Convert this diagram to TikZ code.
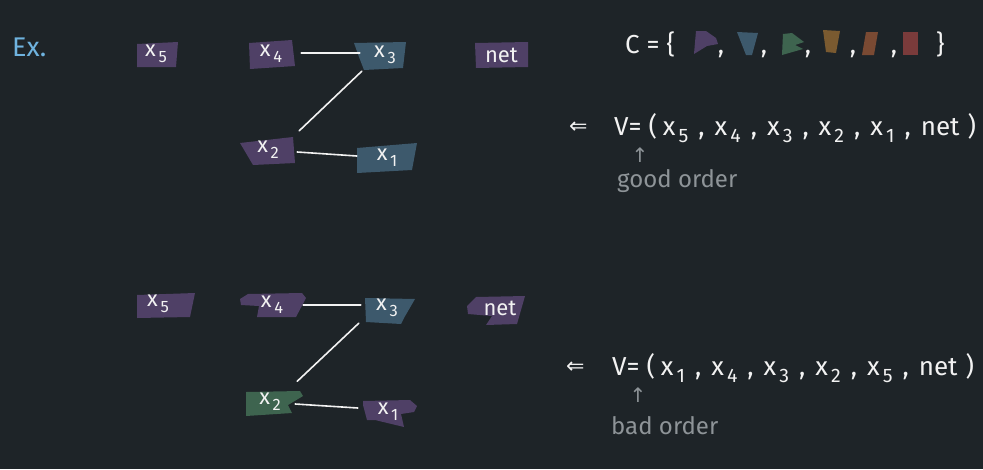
\documentclass[tikz,border=0pt]{standalone}
\usepackage{graphicx}
\usepackage{fontspec}
\setmainfont{Fira Sans}
\newfontfamily\symf{DejaVu Sans}
\definecolor{bg}{HTML}{1E2428}
\definecolor{fg}{HTML}{F2F2F2}
\definecolor{gr}{HTML}{8E9498}
\definecolor{exblue}{HTML}{6FB3DF}
\definecolor{cpurp}{HTML}{4F4066}
\definecolor{cblue}{HTML}{3D596C}
\definecolor{cgreen}{HTML}{3E644F}
\definecolor{corange}{HTML}{7A5A30}
\definecolor{crust}{HTML}{7A4A33}
\definecolor{cred}{HTML}{7A3B3B}
\newcommand{\xsub}[1]{x\kern0.12em\raisebox{-0.28em}{\scalebox{0.75}{#1}}}
\newcommand{\sep}{\hspace{10pt},\hspace{10pt}}
\tikzset{
  lbl/.style={text=fg, font=\fontsize{22}{26}\selectfont, inner sep=0pt},
  conn/.style={draw=fg, line width=1.6pt, line cap=round},
  big/.style={text=fg, font=\fontsize{26}{30}\selectfont, inner sep=0pt},
  note/.style={text=gr, font=\fontsize{24}{28}\selectfont, inner sep=0pt},
}
\begin{document}
\begin{tikzpicture}[x=1pt,y=-1pt]
\fill[bg] (0,0) rectangle (983,469);
\useasboundingbox (0,0) rectangle (983,469);

\node[text=exblue, font=\fontsize{27}{30}\selectfont, inner sep=0pt, anchor=west] (ex) at (12,47) {Ex.};

% ---------- top graph ----------
\fill[cpurp] (137,44) -- (178,42) -- (176,67) -- (137,67) -- cycle;
\fill[cpurp] (249,43) -- (292,40) -- (295,66) -- (250,69) -- cycle;
\fill[cblue] (354,43) -- (406,42) -- (403,68) -- (364,70) -- (359,57) -- cycle;
\fill[cpurp] (475,43) -- (528,42) -- (528,67) -- (476,68) -- cycle;
\fill[cpurp] (240,143) -- (293,137) -- (295,163) -- (253,165) -- cycle;
\fill[cblue] (357,148) -- (417,143) -- (412,170) -- (357,173) -- cycle;

\node[lbl, minimum width=41pt, minimum height=25pt] (tx5) at (156,54) {\xsub{5}};
\node[lbl, minimum width=46pt, minimum height=28pt] (tx4) at (271,54) {\xsub{4}};
\node[lbl, minimum width=50pt, minimum height=27pt] (tx3) at (385,55) {\xsub{3}};
\node[lbl, minimum width=53pt, minimum height=25pt] (tret) at (501.5,55) {net};
\node[lbl, minimum width=54pt, minimum height=28pt] (tx2) at (268,150) {\xsub{2}};
\node[lbl, minimum width=60pt, minimum height=30pt] (tx1) at (387,158) {\xsub{1}};

\draw[conn] ([xshift=7pt,yshift=1pt]tx4.east) -- ([xshift=0pt,yshift=2pt]tx3.west);
\draw[conn] ([xshift=2pt,yshift=-2.5pt]tx3.south west) -- ([xshift=4pt,yshift=5pt]tx2.north east);
\draw[conn] ([xshift=2pt,yshift=-2pt]tx2.east) -- ([yshift=2pt]tx1.west);

% ---------- bottom graph ----------
\fill[cpurp] (137,295) -- (195,293) -- (190,317) -- (137,318) -- cycle;
\fill[cpurp] (240,299) -- (248,294) -- (302,293) -- (306,298) -- (296,317) -- (257,317) -- (259,306) -- (241,305) -- cycle;
\fill[cblue] (365,298) -- (415,299) -- (404,318) -- (401,324) -- (366,322) -- cycle;
\fill[cpurp] (467,306) -- (476,297) -- (525,296) -- (517,324) -- (486,325) -- (492,316) -- (468,314) -- cycle;
\fill[cgreen] (246,392) -- (300,391) -- (303,396) -- (288,405) -- (292,413) -- (246,416) -- cycle;
\fill[cpurp] (363,401) -- (410,400) -- (417,406) -- (414,412) -- (401,414) -- (404,427) -- (375,420) -- (367,420) -- (363,405) -- cycle;

\node[lbl, minimum width=55pt, minimum height=26pt] (bx5) at (158,304) {\xsub{5}};
\node[lbl, minimum width=64pt, minimum height=24pt] (bx4) at (272,305) {\xsub{4}};
\node[lbl, minimum width=50pt, minimum height=26pt] (bx3) at (387,308) {\xsub{3}};
\node[lbl, minimum width=56pt, minimum height=30pt] (bret) at (500,308) {net};
\node[lbl, minimum width=56pt, minimum height=25pt] (bx2) at (270,402) {\xsub{2}};
\node[lbl, minimum width=54pt, minimum height=27pt] (bx1) at (388,412) {\xsub{1}};

\draw[conn] ([xshift=-1pt]bx4.east) -- ([xshift=-1pt,yshift=3pt]bx3.west);
\draw[conn] ([xshift=-3pt,yshift=-2pt]bx3.south west) -- ([xshift=-1pt,yshift=8pt]bx2.north east);
\draw[conn] ([xshift=-3pt,yshift=-2pt]bx2.east) -- ([xshift=-3pt,yshift=4pt]bx1.west);

% ---------- colour set ----------
\node[big, anchor=base west] (cset) at (625,53) {C = \{};
\fill[cpurp] (696,31) -- (706,31) -- (716,38) -- (718,44) -- (707,46) -- (694,54) -- cycle;
\fill[cblue] (737,32) -- (758,33) -- (752,55) -- (746,55) -- cycle;
\fill[cgreen] (783,34) -- (792,33) -- (804,42) -- (795,45) -- (803,49) -- (782,55) -- cycle;
\fill[corange] (823,30) -- (840,31) -- (836,53) -- (826,52) -- cycle;
\fill[crust] (866,32) -- (878,32) -- (874,55) -- (862,55) -- cycle;
\fill[cred] (903,32) -- (918,32) -- (918,55) -- (903,55) -- cycle;
\node[big, anchor=base] (c1) at (721,53) {,};
\node[big, anchor=base] (c2) at (764,53) {,};
\node[big, anchor=base] (c3) at (808,53) {,};
\node[big, anchor=base] (c4) at (853,53) {,};
\node[big, anchor=base] (c5) at (894,53) {,};
\node[big, anchor=base west] (cclose) at (936,53) {\}};

% ---------- orders ----------
\node[big, anchor=base west] (la1) at (569,133) {\symf\fontsize{22}{26}\selectfont ⇐};
\node[big, anchor=base west] (v1) at (614,135) {V= (\hspace{6pt}\xsub{5}\sep\xsub{4}\sep\xsub{3}\sep\xsub{2}\sep\xsub{1}\sep net\hspace{8pt})};
\node[note, anchor=center] (ua1) at (640,155) {\symf\fontsize{20}{24}\selectfont ↑};
\node[note, anchor=west] (good) at (617,181) {good order};

\node[big, anchor=base west] (la2) at (566,373) {\symf\fontsize{22}{26}\selectfont ⇐};
\node[big, anchor=base west] (v2) at (612,375) {V= (\hspace{6pt}\xsub{1}\sep\xsub{4}\sep\xsub{3}\sep\xsub{2}\sep\xsub{5}\sep net\hspace{8pt})};
\node[note, anchor=center] (ua2) at (638,395) {\symf\fontsize{20}{24}\selectfont ↑};
\node[note, anchor=west] (bad) at (611,426) {bad order};
\end{tikzpicture}
\end{document}
